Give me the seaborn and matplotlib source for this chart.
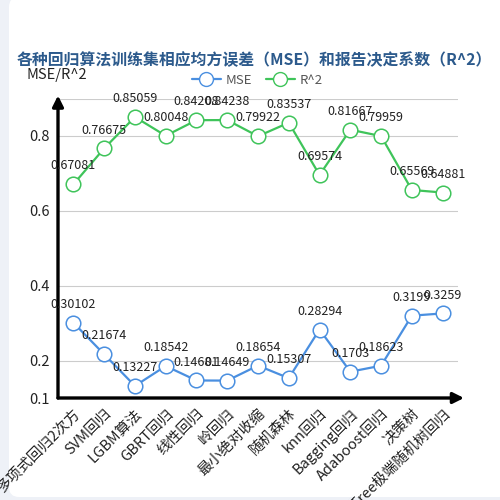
import matplotlib
matplotlib.use("Agg")
import matplotlib.pyplot as plt
from matplotlib.patches import FancyBboxPatch
from matplotlib.lines import Line2D
import seaborn as sns
import pandas as pd
import numpy as np

models = ['多项式回归2次方', 'SVM回归', 'LGBM算法', 'GBRT回归', '线性回归', '岭回归',
          '最小绝对收缩', '随机森林', 'knn回归', 'Bagging回归', 'Adaboost回归', '决策树',
          'ExtraTree极端随机树回归']
mse = [0.30102, 0.21674, 0.13227, 0.18542, 0.14681, 0.14649, 0.18654, 0.15307,
       0.28294, 0.1703, 0.18623, 0.3199, 0.3259]
r2 = [0.67081, 0.76675, 0.85059, 0.80048, 0.84208, 0.84238, 0.79922, 0.83537,
      0.69574, 0.81667, 0.79959, 0.65569, 0.64881]
y_ticks = [0.1, 0.2, 0.4, 0.6, 0.8]

sns.set_style("white")
plt.rcParams['font.family'] = ['Noto Sans CJK SC', 'DejaVu Sans']

blue = '#4a8fe0'
green = '#3fc45a'

fig = plt.figure(figsize=(5, 5), dpi=100)
fig.patch.set_facecolor('#eef1f7')
card = FancyBboxPatch((0.018, 0.006), 1.0, 1.0, boxstyle="round,pad=0,rounding_size=0.02",
                      transform=fig.transFigure, facecolor='white', edgecolor='none', zorder=-10)
fig.patches.append(card)

ax = fig.add_axes([0.116, 0.204, 0.8, 0.599])
ax.set_facecolor('none')

df = pd.DataFrame({'idx': np.arange(len(models)), 'MSE': mse, 'R^2': r2})

for col, c in [('MSE', blue), ('R^2', green)]:
    sns.lineplot(data=df, x='idx', y=col, ax=ax, color=c, lw=1.6, marker='o',
                 markersize=10.5, markerfacecolor='white', markeredgecolor=c,
                 markeredgewidth=1.1, zorder=3)
    for i, v in enumerate(df[col]):
        ax.annotate(f'{v:g}', (i, v), xytext=(0, 8.5), textcoords='offset points',
                    ha='center', va='bottom', fontsize=9, color='#222222', zorder=5)

ax.set_xlim(-0.5, len(models) - 0.5)
ax.set_ylim(0.1, 0.9)

# grid
for g in [0.2, 0.4, 0.6, 0.8, 0.9]:
    ax.axhline(g, color='#cccccc', lw=0.8, zorder=1)

ax.set_yticks(y_ticks)
ax.set_yticklabels([f'{t:g}' for t in y_ticks], fontsize=10.5, color='#222222')
ax.tick_params(axis='y', length=4, width=1, color='#222222', pad=2)

ax.set_xticks(np.arange(len(models)))
ax.set_xticklabels(models, rotation=45, ha='right', rotation_mode='anchor',
                   fontsize=10.5, color='#222222')
ax.set_xticks(np.arange(len(models) + 1) - 0.5, minor=True)
ax.tick_params(axis='x', which='major', length=0, pad=6)
ax.tick_params(axis='x', which='minor', length=4, width=1, color='#222222')
ax.set_xlabel('')
ax.set_ylabel('')

for s in ax.spines.values():
    s.set_visible(False)

# axis arrows
ax.annotate('', xy=(0, 1.01), xytext=(0, 0), xycoords='axes fraction',
            arrowprops=dict(arrowstyle='-|>', lw=2.4, color='black', mutation_scale=16,
                            shrinkA=0, shrinkB=0), annotation_clip=False)
ax.annotate('', xy=(1.015, 0), xytext=(0, 0), xycoords='axes fraction',
            arrowprops=dict(arrowstyle='-|>', lw=2.4, color='black', mutation_scale=16,
                            shrinkA=0, shrinkB=0), annotation_clip=False)

fig.text(0.508, 0.879, '各种回归算法训练集相应均方误差（MSE）和报告决定系数（R^2）',
         ha='center', va='center', fontsize=11.4, fontweight='bold', color='#2c5a8c')
fig.text(0.053, 0.851, 'MSE/R^2', ha='left', va='center', fontsize=10.5, color='#222222')

handles = [Line2D([0], [0], color=blue, lw=1.6, marker='o', markersize=10,
                  markerfacecolor='white', markeredgecolor=blue),
           Line2D([0], [0], color=green, lw=1.6, marker='o', markersize=10,
                  markerfacecolor='white', markeredgecolor=green)]
fig.legend(handles, ['MSE', 'R^2'], loc='center', bbox_to_anchor=(0.515, 0.84), ncol=2,
           frameon=False, fontsize=9.5, handlelength=2.2, columnspacing=1.0,
           handletextpad=0.4, labelcolor='#555555')

fig.savefig('out.png', dpi=100)
